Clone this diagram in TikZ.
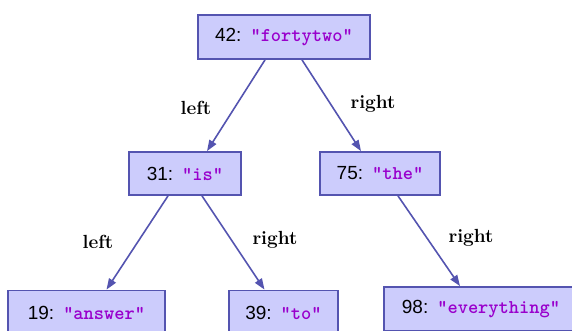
\documentclass[tikz,border=0pt]{standalone}
\usepackage{fontspec}
\usetikzlibrary{arrows.meta}
\newfontfamily\numfont{Liberation Sans}
\newfontfamily\codefont{lmmonolt10-bold.otf}
\definecolor{boxfill}{RGB}{204,204,252}
\definecolor{boxline}{RGB}{84,84,176}
\definecolor{strcol}{RGB}{153,0,204}
\tikzset{
  x=1pt, y=-1pt,
  treenode/.style={draw=boxline, line width=1.8pt, fill=boxfill,
    minimum height=44pt, inner sep=0pt, anchor=center},
  link/.style={draw=boxline, line width=1.6pt,
    -{Triangle[length=11pt,width=8pt]}},
  edgelabel/.style={font=\fontsize{19}{22}\selectfont\bfseries, text=black}
}
\newcommand{\entry}[2]{{\numfont\fontsize{19}{20}\selectfont #1:}\hspace{9pt}{\codefont\fontsize{19.5}{20}\selectfont\color{strcol}"#2"}}
\begin{document}
\begin{tikzpicture}
\useasboundingbox (0,0) rectangle (572,331);
% tree nodes
\node[treenode, minimum width=172pt] (n42) at (284,37) {\entry{42}{fortytwo}};
\node[treenode, minimum width=112pt, minimum height=43pt] (n31) at (185,173.5) {\entry{31}{is}};
\node[treenode, minimum width=120pt, minimum height=43pt] (n75) at (380,173.5) {\entry{75}{the}};
\node[treenode, minimum width=157pt] (n19) at (86.5,312.5) {\entry{19}{answer}};
\node[treenode, minimum width=109pt] (n39) at (283.5,312.5) {\entry{39}{to}};
\node[treenode, minimum width=194pt] (n98) at (481,309) {\entry{98}{everything}};
% child links
\draw[link] ([xshift=-19pt]n42.south) -- ([xshift=22pt]n31.north);
\draw[link] ([xshift=18pt]n42.south) -- ([xshift=-19pt]n75.north);
\draw[link] ([xshift=-17pt]n31.south) -- ([xshift=20pt]n19.north);
\draw[link] ([xshift=17pt]n31.south) -- ([xshift=-19pt]n39.north);
\draw[link] ([xshift=18pt]n75.south) -- ([xshift=-21pt]n98.north);
% link labels
\node[edgelabel] (l1) at (196,108) {left};
\node[edgelabel] (r1) at (373,104) {right};
\node[edgelabel] (l2) at (98,242) {left};
\node[edgelabel] (r2) at (275,240) {right};
\node[edgelabel] (r3) at (471,238) {right};
\end{tikzpicture}
\end{document}
